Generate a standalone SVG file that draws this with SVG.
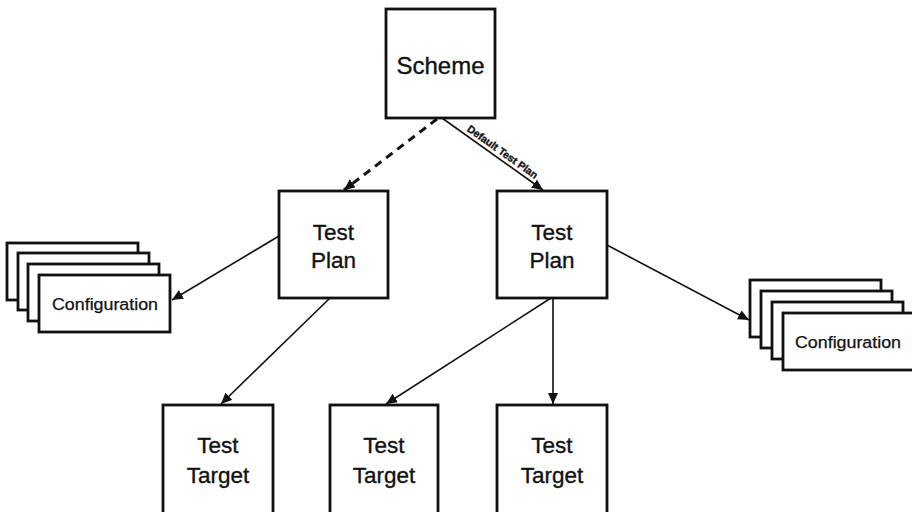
<svg xmlns="http://www.w3.org/2000/svg" width="912" height="512" viewBox="0 0 912 512">
  <style>
    .box { fill: #fff; stroke: #111; stroke-width: 2.8; }
    .lbl { font-family: "Liberation Sans", Arial, sans-serif; fill: #111; stroke: #111; stroke-width: 0.35; text-anchor: middle; }
    .big { font-size: 22.5px; }
    .cfg { font-size: 16px; stroke-width: 0.25; }
    .edge { fill: none; stroke: #111; stroke-width: 1.6; }
    .dash { stroke-width: 3; stroke-dasharray: 8 6; }
  </style>
  <defs>
    <marker id="arrow" markerUnits="userSpaceOnUse" markerWidth="12" markerHeight="10" refX="11" refY="5" orient="auto">
      <path d="M0,0 L11,5 L0,10 Z" fill="#111"/>
    </marker>
  </defs>

  <rect width="912" height="512" fill="#fff"/>

  <!-- connectors -->
  <g id="connectors">
    <line class="edge dash" x1="437" y1="119" x2="344" y2="190" marker-end="url(#arrow)"/>
    <line class="edge" x1="442" y1="118" x2="543" y2="190" marker-end="url(#arrow)"/>
    <line class="edge" x1="279" y1="236" x2="172" y2="300" marker-end="url(#arrow)"/>
    <line class="edge" x1="330" y1="298" x2="221" y2="404" marker-end="url(#arrow)"/>
    <line class="edge" x1="551" y1="298" x2="386" y2="404" marker-end="url(#arrow)"/>
    <line class="edge" x1="553" y1="298" x2="553" y2="404" marker-end="url(#arrow)"/>
    <line class="edge" x1="607" y1="245" x2="749" y2="320" marker-end="url(#arrow)"/>
    <g transform="translate(442,118) rotate(35.5)">
      <text class="lbl" x="69" y="-4" font-size="10.5" font-weight="bold" stroke-width="0" textLength="84" lengthAdjust="spacingAndGlyphs">Default Test Plan</text>
    </g>
  </g>

  <!-- scheme -->
  <g id="scheme">
    <rect class="box" x="386" y="9" width="109" height="109"/>
    <text class="lbl" x="440.5" y="74" font-size="24">Scheme</text>
  </g>

  <!-- test plans -->
  <g id="plan-left">
    <rect class="box" x="279" y="191" width="109" height="107"/>
    <text class="lbl big" x="333.5" y="240">Test</text>
    <text class="lbl big" x="333.5" y="268">Plan</text>
  </g>
  <g id="plan-right">
    <rect class="box" x="497" y="191" width="110" height="107"/>
    <text class="lbl big" x="552" y="240">Test</text>
    <text class="lbl big" x="552" y="268">Plan</text>
  </g>

  <!-- configuration stacks -->
  <g id="config-left">
    <rect class="box" x="7" y="243" width="131" height="57"/>
    <rect class="box" x="18" y="253" width="131" height="57"/>
    <rect class="box" x="28" y="264" width="131" height="57"/>
    <rect class="box" x="39" y="275" width="131" height="57"/>
    <text class="lbl cfg" x="105" y="310" textLength="106" lengthAdjust="spacingAndGlyphs">Configuration</text>
  </g>
  <g id="config-right">
    <rect class="box" x="750" y="280" width="131" height="57"/>
    <rect class="box" x="761" y="291" width="131" height="57"/>
    <rect class="box" x="772" y="302" width="131" height="57"/>
    <rect class="box" x="783" y="313" width="131" height="57"/>
    <text class="lbl cfg" x="848" y="348" textLength="106" lengthAdjust="spacingAndGlyphs">Configuration</text>
  </g>

  <!-- test targets -->
  <g id="target-1">
    <rect class="box" x="163" y="405" width="110" height="120"/>
    <text class="lbl big" x="218" y="453">Test</text>
    <text class="lbl big" x="218" y="483">Target</text>
  </g>
  <g id="target-2">
    <rect class="box" x="330" y="405" width="108" height="120"/>
    <text class="lbl big" x="384" y="453">Test</text>
    <text class="lbl big" x="384" y="483">Target</text>
  </g>
  <g id="target-3">
    <rect class="box" x="497" y="405" width="110" height="120"/>
    <text class="lbl big" x="552" y="453">Test</text>
    <text class="lbl big" x="552" y="483">Target</text>
  </g>
</svg>
